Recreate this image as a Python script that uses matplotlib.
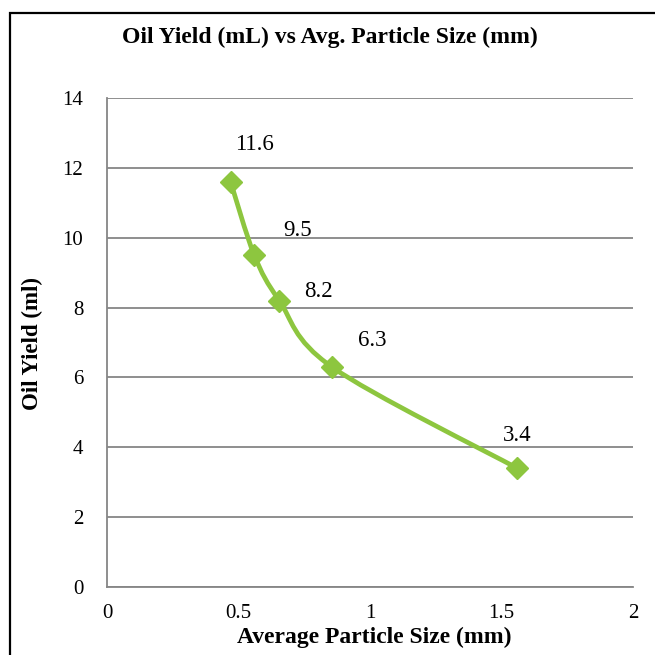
import matplotlib.pyplot as plt
from matplotlib.path import Path
from matplotlib.patches import PathPatch, Rectangle

# data
particle_size = [0.47, 0.56, 0.655, 0.855, 1.56]
oil_yield = [11.6, 9.5, 8.2, 6.3, 3.4]
point_labels = ["11.6", "9.5", "8.2", "6.3", "3.4"]
x_ticks = [0, 0.5, 1, 1.5, 2]
x_tick_labels = ["0", "0.5", "1", "1.5", "2"]
y_ticks = [0, 2, 4, 6, 8, 10, 12, 14]

# label offsets in pixels (dx, dy) relative to each point
label_offsets = [(24, 37), (43, 25), (39, 9), (40, 26), (0, 33)]

plt.rcParams["font.family"] = ["Liberation Serif", "DejaVu Serif"]

green = "#8DC63F"
grey = "#868686"

fig = plt.figure(figsize=(6.55, 6.55), dpi=100)
W = H = 655.0

# outer chart border
fig.patches.append(Rectangle((10 / W, -0.05), 1.2, 1 - 13 / H + 0.05,
                             transform=fig.transFigure, fill=False,
                             edgecolor="black", linewidth=1.6))

ax = fig.add_axes([107 / W, 1 - 587 / H, (633 - 107) / W, (587 - 98) / H])
ax.set_xlim(0, 2)
ax.set_ylim(0, 14)

ax.set_yticks(y_ticks)
ax.set_xticks(x_ticks)
ax.set_xticklabels(x_tick_labels)
ax.grid(axis="y", color=grey, linewidth=1.3)
ax.set_axisbelow(True)
for side in ["top", "right"]:
    ax.spines[side].set_visible(False)
for side in ["left", "bottom"]:
    ax.spines[side].set_color(grey)
    ax.spines[side].set_linewidth(1.3)
ax.tick_params(axis="y", length=0, pad=17, labelsize=15)
ax.tick_params(axis="x", length=0, pad=12, labelsize=15)

# smoothed line (excel style bezier through the points)
n = len(particle_size)
pts = list(zip(particle_size, oil_yield))
verts = [pts[0]]
codes = [Path.MOVETO]
for i in range(n - 1):
    p0 = pts[i - 1] if i > 0 else pts[i]
    p1 = pts[i]
    p2 = pts[i + 1]
    p3 = pts[i + 2] if i + 2 < n else pts[i + 1]
    c1 = (p1[0] + (p2[0] - p0[0]) / 6, p1[1] + (p2[1] - p0[1]) / 6)
    c2 = (p2[0] - (p3[0] - p1[0]) / 6, p2[1] - (p3[1] - p1[1]) / 6)
    verts += [c1, c2, p2]
    codes += [Path.CURVE4] * 3
ax.add_patch(PathPatch(Path(verts, codes), facecolor="none",
                       edgecolor=green, linewidth=3.4, capstyle="round",
                       joinstyle="round", zorder=3))
ax.plot(particle_size, oil_yield, linestyle="none", marker="D",
        markersize=11.5, color=green, zorder=4)

for x, y, lab, off in zip(particle_size, oil_yield, point_labels, label_offsets):
    ax.annotate(lab, (x, y), xytext=(off[0] * 0.72, off[1] * 0.72),
                textcoords="offset points", ha="center", va="center",
                fontsize=16.5)

fig.text(330 / W, 1 - 37 / H, "Oil Yield (mL) vs Avg. Particle Size (mm)",
         ha="center", va="center", fontsize=17, fontweight="bold")
fig.text(374 / W, 1 - 637 / H, "Average Particle Size (mm)",
         ha="center", va="center", fontsize=17, fontweight="bold")
fig.text(32 / W, 1 - 343 / H, "Oil Yield (ml)", rotation=90,
         ha="center", va="center", fontsize=16.5, fontweight="bold")

fig.savefig("out.png", dpi=100)
